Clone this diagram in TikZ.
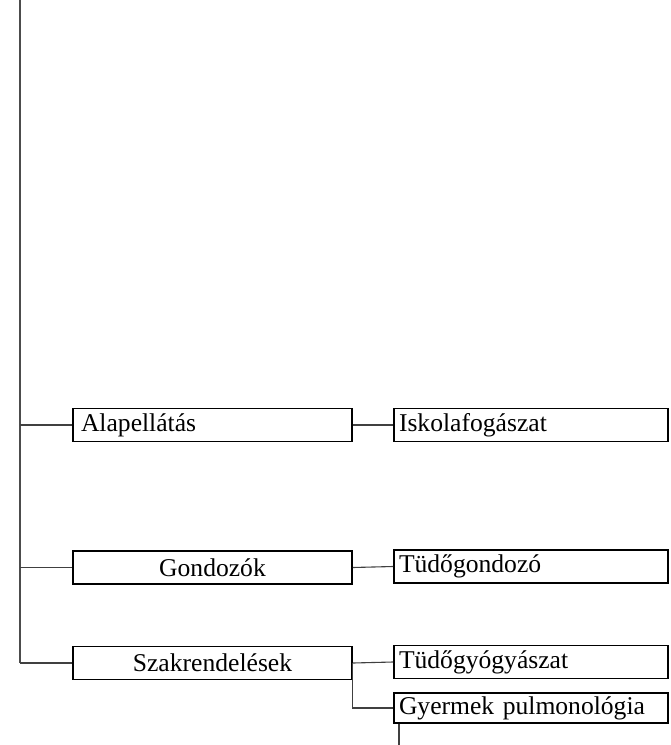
\documentclass[tikz,border=0pt]{standalone}
\usepackage{fontspec}
\setmainfont{Liberation Serif}
\usepackage{tikz}
\usetikzlibrary{arrows,positioning}
\tikzset{
    %Define style for left boxes
    leftbox/.style={
           rectangle,
           draw=black, line width=1.8pt,
           minimum width=279pt,
           minimum height=33pt,
           text width=263pt,
           inner xsep=8pt,
           font=\fontsize{25.6}{28}\selectfont,
           align=center},
    %Define style for right boxes
    rightbox/.style={
           rectangle,
           draw=black, line width=1.8pt,
           minimum width=274pt,
           minimum height=33pt,
           text width=264pt,
           inner xsep=5pt,
           font=\fontsize{25.6}{28}\selectfont,
           align=left},
    % Define line style
    link/.style={
           draw=black!75,
           line width=1.1pt},
    trunk/.style={
           draw=black!70,
           line width=1.6pt}
}
\begin{document}
\begin{tikzpicture}[x=1pt,y=-1pt]
\useasboundingbox (0,0) rectangle (670,745);
 %nodes
\coordinate (top) at (20,0);
\coordinate (down) at (399,745);
\node[leftbox, align=left](alap) at (212.5,425){Alapellátás};
\node[leftbox](gond) at (212.5,567.5){Gondozók};
\node[leftbox](szak) at (212.5,663){Szakrendelések};
\node[rightbox](isk) at (531,425){Iskolafogászat};
\node[rightbox](tgond) at (531,566.5){Tüdőgondozó};
\node[rightbox](tgyogy) at (531,662){Tüdőgyógyászat};
\node[rightbox, minimum height=30pt](gyer) at (531,708){Gyermek pulmonológia};
 %lines
\draw[trunk] (top) -- (szak.west -| top);
\draw[link] (alap.west -| top) -- (alap.west);
\draw[link] (gond.west -| top) -- (gond.west);
\draw[link] (szak.west -| top) -- (szak.west);
\draw[link] (alap.east) -- (isk.west);
\draw[link] (gond.east) -- (tgond.west);
\draw[link] (szak.east) -- (tgyogy.west);
\draw[link] (szak.east) |- (gyer.west);
\draw[link] (gyer.south -| down) -- (down);
\end{tikzpicture}
\end{document}
